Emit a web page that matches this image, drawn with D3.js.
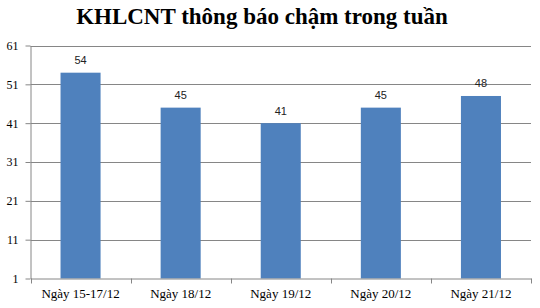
<!DOCTYPE html>
<html>
<head>
<meta charset="utf-8">
<script src="https://cdn.jsdelivr.net/npm/d3@7"></script>
<style>
  body { margin: 0; background: #fff; }
  svg { display: block; }
</style>
</head>
<body>
<svg id="chart" width="540" height="308"></svg>
<script>

var categories = ["Ngày 15-17/12", "Ngày 18/12", "Ngày 19/12", "Ngày 20/12", "Ngày 21/12"];
var values = [54, 45, 41, 45, 48];
var yTicks = [1, 11, 21, 31, 41, 51, 61];
var title = "KHLCNT thông báo chậm trong tuần";

var svg = d3.select("#chart");
var plotLeft = 30.5, plotRight = 531, plotTop = 45.5, plotBottom = 278.5;

var x = d3.scaleBand()
  .domain(categories)
  .range([plotLeft, plotRight])
  .paddingInner(0.6)
  .paddingOuter(0.3);

var y = d3.scaleLinear()
  .domain([1, 61])
  .range([plotBottom, plotTop]);

// title
svg.append("text")
  .attr("x", 262)
  .attr("y", 24)
  .attr("text-anchor", "middle")
  .attr("font-family", "Liberation Serif, Times New Roman, serif")
  .attr("font-weight", "bold")
  .attr("font-size", 23)
  .attr("fill", "#000")
  .text(title);

// gridlines
svg.append("g")
  .selectAll("line")
  .data(yTicks.slice(1))
  .enter()
  .append("line")
    .attr("x1", plotLeft)
    .attr("x2", plotRight)
    .attr("y1", function(d){ return Math.round(y(d)) + 0.5; })
    .attr("y2", function(d){ return Math.round(y(d)) + 0.5; })
    .attr("stroke", "#868686")
    .attr("stroke-width", 1);

// bars
svg.append("g")
  .selectAll("rect")
  .data(values)
  .enter()
  .append("rect")
    .attr("x", function(d, i){ return x(categories[i]); })
    .attr("width", x.bandwidth())
    .attr("y", function(d){ return y(d); })
    .attr("height", function(d){ return plotBottom - y(d); })
    .attr("fill", "#4f81bd");

// value labels
svg.append("g")
  .selectAll("text")
  .data(values)
  .enter()
  .append("text")
    .attr("x", function(d, i){ return x(categories[i]) + x.bandwidth() / 2; })
    .attr("y", function(d){ return y(d) - 8.5; })
    .attr("text-anchor", "middle")
    .attr("font-family", "Liberation Sans, Arial, sans-serif")
    .attr("font-size", 11)
    .attr("fill", "#222")
    .text(function(d){ return d; });

// y axis
var yAxis = svg.append("g")
  .attr("transform", "translate(" + plotLeft + ",0)")
  .call(d3.axisLeft(y).tickValues(yTicks).tickSize(5).tickSizeOuter(0).tickPadding(7));

// x axis
var xAxis = svg.append("g")
  .attr("transform", "translate(0," + plotBottom + ")")
  .call(d3.axisBottom(x).tickSize(0).tickSizeOuter(0).tickPadding(10));

// x ticks between categories
var edges = categories.map(function(c){ return x(c) - x.step() * 0.3; });
edges.push(plotRight);
xAxis.selectAll(".sep")
  .data(edges)
  .enter()
  .append("line")
    .attr("class", "sep")
    .attr("x1", function(d){ return Math.round(d) + 0.5; })
    .attr("x2", function(d){ return Math.round(d) + 0.5; })
    .attr("y1", 0)
    .attr("y2", 5)
    .attr("stroke", "#868686");

[yAxis, xAxis].forEach(function(a){
  a.select(".domain").attr("stroke", "#868686");
  a.selectAll(".tick line").attr("stroke", "#868686");
  a.selectAll("text")
    .attr("font-family", "Liberation Serif, Times New Roman, serif")
    .attr("font-size", 12)
    .attr("fill", "#000");
});
xAxis.selectAll("text").attr("font-size", 13);

</script>
</body>
</html>
